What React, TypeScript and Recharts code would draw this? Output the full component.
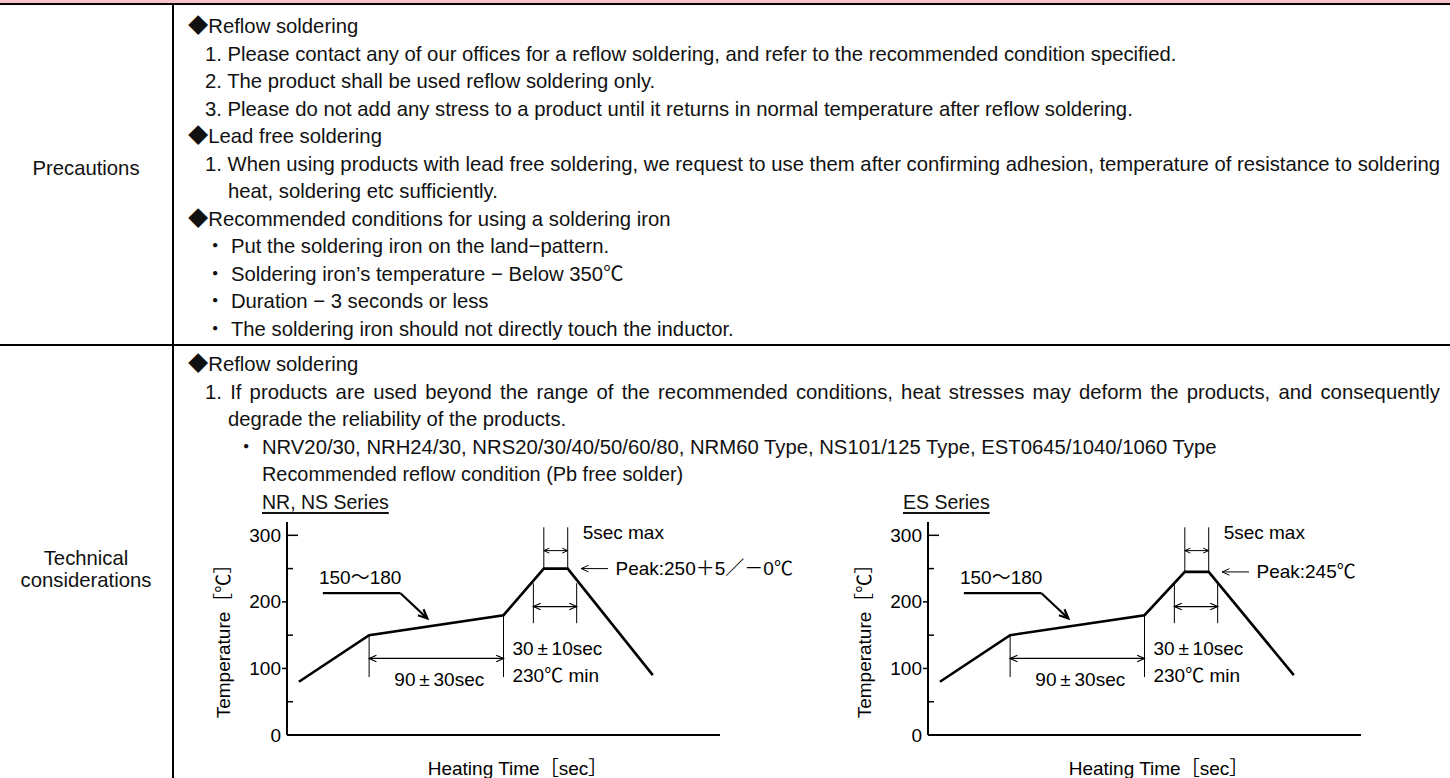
import React from "react";
import { LineChart, Line, XAxis, YAxis, ReferenceLine, ReferenceDot } from "recharts";

// --- reflow profile (time in sec, temperature in degC) ---
const profileTime = [8, 55, 145, 172, 188, 245];
const nrTemps = [80, 150, 180, 250, 250, 90];
const esTemps = [80, 150, 180, 245, 245, 90];

const tempTicks = [0, 50, 100, 150, 200, 250, 300];
const labelledTicks = [0, 100, 200, 300];
const timeDomain = [0, 290];
const tempDomain = [0, 320];

// --- annotation anchors (sec / degC) ---
const soak = [55, 145]; // 90±30sec
const soakTemps = [150, 180];
const soakDrop = 87;
const soakArrowTemp = 115;
const liquidus = [165, 194]; // 30±10sec above 230
const liquidusSpan = [228, 168];
const liquidusArrowTemp = 193;
const peakHold = [172, 188]; // 5sec max
const peakTop = 312;
const peakArrowTemp = 277;
const peakPointer = [197, 215];
const leader = [
  { x: 24, y: 213 },
  { x: 76, y: 213 },
  { x: 94, y: 175 },
];

const FONT = "'Liberation Sans', 'Noto Sans CJK JP', sans-serif";
const TXT = 20.3;

const arrowShape = (heads: "both" | "end", size = 7, width = 1) => (p: any) => {
  const { x1, y1, x2, y2 } = p;
  const a = Math.atan2(y2 - y1, x2 - x1);
  const w = 0.42;
  const endHead = `${x2 - size * Math.cos(a - w)},${y2 - size * Math.sin(a - w)} ${x2},${y2} ${x2 - size * Math.cos(a + w)},${y2 - size * Math.sin(a + w)}`;
  const startHead = `${x1 + size * Math.cos(a - w)},${y1 + size * Math.sin(a - w)} ${x1},${y1} ${x1 + size * Math.cos(a + w)},${y1 + size * Math.sin(a + w)}`;
  return (
    <g stroke="#000" strokeWidth={width} fill="none">
      <line x1={x1} y1={y1} x2={x2} y2={y2} />
      <polyline points={endHead} />
      {heads === "both" && <polyline points={startHead} />}
    </g>
  );
};

const textShape = (txt: string, anchor: "start" | "middle" | "end" = "start") => (p: any) => (
  <text x={p.cx} y={p.cy} textAnchor={anchor} dominantBaseline="central" fontSize={19} fontFamily={FONT} fill="#000">
    {txt}
  </text>
);

const TempTick = (p: any) => {
  const v = p.payload.value;
  const ax = p.x;
  let tick = null;
  if (v === 300) tick = <line x1={ax} x2={ax + 11} y1={p.y} y2={p.y} stroke="#000" strokeWidth={1.5} />;
  else if (v === 200 || v === 100) tick = <line x1={ax - 5} x2={ax} y1={p.y} y2={p.y} stroke="#000" strokeWidth={1.5} />;
  else if (v !== 0) tick = <line x1={ax} x2={ax + 6} y1={p.y} y2={p.y} stroke="#000" strokeWidth={1.5} />;
  return (
    <g>
      {tick}
      {labelledTicks.includes(v) && (
        <text x={ax - 6} y={p.y} textAnchor="end" dominantBaseline="central" fontSize={19} fontFamily={FONT} fill="#000">
          {v}
        </text>
      )}
    </g>
  );
};

const yLabel = (p: any) => {
  const vb = p.viewBox;
  const cx = vb.x + 28;
  const cy = vb.y + vb.height / 2 + 8;
  return (
    <text x={cx} y={cy} transform={`rotate(-90 ${cx} ${cy})`} textAnchor="middle" dominantBaseline="central" fontSize={19} fontFamily={FONT} fill="#000">
      Temperature［℃］
    </text>
  );
};

const xLabel = (p: any) => {
  const vb = p.viewBox;
  return (
    <text x={vb.x + vb.width / 2 + 14} y={vb.y + 33} textAnchor="middle" dominantBaseline="central" fontSize={19} fontFamily={FONT} fill="#000">
      Heating Time［sec］
    </text>
  );
};

function ReflowChart({ temps, peakLabel, left, width }: { temps: number[]; peakLabel: string; left: number; width: number }) {
  const data = profileTime.map((t, i) => ({ t, temp: temps[i] }));
  const peak = temps[3];
  const plotWidth = 433;
  return (
    <div style={{ position: "absolute", left, top: 505 }}>
      <LineChart width={width} height={273} data={data} margin={{ top: 17, right: width - 92 - plotWidth, bottom: 0, left: 0 }}>
        <XAxis dataKey="t" type="number" domain={timeDomain} tick={false} tickLine={false} height={43} axisLine={{ stroke: "#000", strokeWidth: 2 }} label={xLabel} />
        <YAxis type="number" domain={tempDomain} ticks={tempTicks} interval={0} width={92} tickLine={false} tickSize={0} tickMargin={0} axisLine={{ stroke: "#000", strokeWidth: 2 }} tick={TempTick} label={yLabel} />

        {/* soak 90±30sec */}
        <ReferenceLine segment={[{ x: soak[0], y: soakTemps[0] }, { x: soak[0], y: soakDrop }]} stroke="#000" strokeWidth={1} />
        <ReferenceLine segment={[{ x: soak[1], y: soakTemps[1] }, { x: soak[1], y: soakDrop }]} stroke="#000" strokeWidth={1} />
        <ReferenceLine segment={[{ x: soak[0], y: soakArrowTemp }, { x: soak[1], y: soakArrowTemp }]} shape={arrowShape("both", 8, 1.2)} />

        {/* above 230 */}
        <ReferenceLine segment={[{ x: liquidus[0], y: liquidusSpan[0] }, { x: liquidus[0], y: liquidusSpan[1] }]} stroke="#000" strokeWidth={1} />
        <ReferenceLine segment={[{ x: liquidus[1], y: liquidusSpan[0] }, { x: liquidus[1], y: liquidusSpan[1] }]} stroke="#000" strokeWidth={1} />
        <ReferenceLine segment={[{ x: liquidus[0], y: liquidusArrowTemp }, { x: liquidus[1], y: liquidusArrowTemp }]} shape={arrowShape("both", 8, 1.2)} />

        {/* peak hold */}
        <ReferenceLine segment={[{ x: peakHold[0], y: peak }, { x: peakHold[0], y: peakTop }]} stroke="#000" strokeWidth={1} />
        <ReferenceLine segment={[{ x: peakHold[1], y: peak }, { x: peakHold[1], y: peakTop }]} stroke="#000" strokeWidth={1} />
        <ReferenceLine segment={[{ x: peakHold[0], y: peakArrowTemp }, { x: peakHold[1], y: peakArrowTemp }]} shape={arrowShape("both", 6, 1)} />
        <ReferenceLine segment={[{ x: peakPointer[1], y: peak }, { x: peakPointer[0], y: peak }]} shape={arrowShape("end", 8, 1)} />

        {/* 150~180 leader */}
        <ReferenceLine segment={[leader[0], leader[1]]} stroke="#000" strokeWidth={2.2} />
        <ReferenceLine segment={[leader[1], leader[2]]} shape={arrowShape("end", 10, 2.2)} />

        <ReferenceDot x={49} y={237} shape={textShape("150〜180", "middle")} />
        <ReferenceDot x={102} y={84} shape={textShape("90\u2009±\u200930sec", "middle")} />
        <ReferenceDot x={151} y={130} shape={textShape("30\u2009±\u200910sec")} />
        <ReferenceDot x={151} y={90} shape={textShape("230℃ min")} />
        <ReferenceDot x={198} y={304} shape={textShape("5sec max")} />
        <ReferenceDot x={220} y={peak} shape={textShape(peakLabel)} />

        <Line dataKey="temp" type="linear" stroke="#000" strokeWidth={2.6} dot={false} strokeLinejoin="miter" isAnimationActive={false} />
      </LineChart>
    </div>
  );
}

const line = (text: string, x: number, cy: number, extra: React.CSSProperties = {}) => (
  <div
    key={`${cy}-${x}`}
    style={{ position: "absolute", left: x, top: cy - 14, height: 28, lineHeight: "28px", whiteSpace: "nowrap", fontSize: TXT, ...extra }}
  >
    {text}
  </div>
);

const justified = (text: string, x: number, cy: number) =>
  line(text, x, cy, { width: 1440 - x, textAlign: "justify", textAlignLast: "justify" });

const underline: React.CSSProperties = { fontSize: 19.5, textDecoration: "underline", textDecorationThickness: "2px", textUnderlineOffset: "3px" };

export default function App() {
  const r1 = (i: number) => 26 + 27.5 * i;
  const r2 = (i: number) => 364 + 27.5 * i;
  return (
    <div style={{ position: "absolute", left: 0, top: 0, width: 1450, height: 778, overflow: "hidden", background: "#fff", fontFamily: FONT, color: "#111" }}>
      {/* frame */}
      <div style={{ position: "absolute", left: 0, top: 0, width: 1450, height: 3, background: "#f5c4c9" }} />
      <div style={{ position: "absolute", left: 0, top: 3, width: 1450, height: 2, background: "#000" }} />
      <div style={{ position: "absolute", left: 172, top: 5, width: 2, height: 773, background: "#000" }} />
      <div style={{ position: "absolute", left: 0, top: 344, width: 1450, height: 2, background: "#000" }} />

      {/* left labels */}
      <div style={{ position: "absolute", left: 0, width: 172, top: 168 - 12, lineHeight: "24px", fontSize: TXT, textAlign: "center" }}>Precautions</div>
      <div style={{ position: "absolute", left: 0, width: 172, top: 558 - 11, lineHeight: "22px", fontSize: TXT, textAlign: "center" }}>
        Technical
        <br />
        considerations
      </div>

      {/* precautions */}
      {line("◆Reflow soldering", 188, r1(0))}
      {line("1. Please contact any of our offices for a reflow soldering, and refer to the recommended condition specified.", 205, r1(1))}
      {line("2. The product shall be used reflow soldering only.", 205, r1(2))}
      {line("3. Please do not add any stress to a product until it returns in normal temperature after reflow soldering.", 205, r1(3))}
      {line("◆Lead free soldering", 188, r1(4))}
      {justified("1. When using products with lead free soldering, we request to use them after confirming adhesion, temperature of resistance to soldering", 205, r1(5))}
      {line("heat, soldering etc sufficiently.", 228, r1(6))}
      {line("◆Recommended conditions for using a soldering iron", 188, r1(7))}
      {line("・ Put the soldering iron on the land−pattern.", 205, r1(8))}
      {line("・ Soldering iron’s temperature − Below 350℃", 205, r1(9))}
      {line("・ Duration − 3 seconds or less", 205, r1(10))}
      {line("・ The soldering iron should not directly touch the inductor.", 205, r1(11))}

      {/* technical considerations */}
      {line("◆Reflow soldering", 188, r2(0))}
      {justified("1. If products are used beyond the range of the recommended conditions, heat stresses may deform the products, and consequently", 205, r2(1))}
      {line("degrade the reliability of the products.", 228, r2(2))}
      {line("・ NRV20/30, NRH24/30, NRS20/30/40/50/60/80, NRM60 Type, NS101/125 Type, EST0645/1040/1060 Type", 236, r2(3), { fontSize: 20.3 })}
      {line("Recommended reflow condition (Pb free solder)", 262, r2(4), { fontSize: 19.9 })}
      {line("NR, NS Series", 262, r2(5), underline)}
      {line("ES Series", 903, r2(5), underline)}

      <ReflowChart temps={nrTemps} peakLabel="Peak:250＋5／－0℃" left={195} width={620} />
      <ReflowChart temps={esTemps} peakLabel="Peak:245℃" left={836} width={614} />
    </div>
  );
}
